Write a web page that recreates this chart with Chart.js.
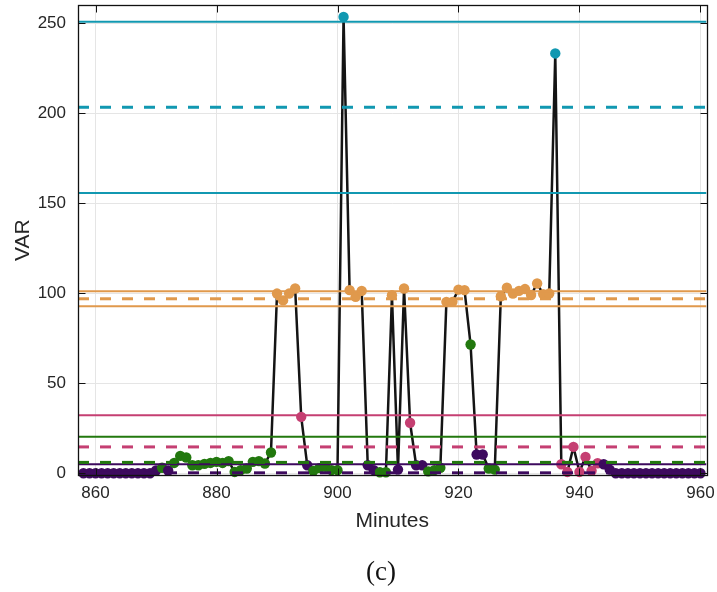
<!DOCTYPE html>
<html>
<head>
<meta charset="utf-8">
<script src="https://cdn.jsdelivr.net/npm/chart.js@4.4.1/dist/chart.umd.min.js"></script>
<style>
  html, body { margin: 0; padding: 0; background: #fff; }
  #wrap { position: relative; width: 717px; height: 592px; }
  #caption {
    position: absolute; left: 0; width: 762px; top: 556px;
    text-align: center; font: 27px "Liberation Serif", "Times New Roman", serif; color: #111;
  }
</style>
</head>
<body>
<div id="wrap">
  <canvas id="varChart" width="717" height="592"></canvas>
  <div id="caption">(c)</div>
</div>
<script>
/* ── 데이터: 분 단위 VAR 값 (858분부터 960분까지) ── */
const START_MINUTE = 858;

const VAR_VALUES = [
  0, 0, 0, 0, 0, 0, 0, 0, 0, 0, 0, 0,                    // 858-869
  1.5, 3, 1.5, 5.7, 9.6, 8.7, 4.4, 4.4, 5.2, 5.7,         // 870-879
  6.3, 5.7, 6.7, 0.7, 1.7, 2.6, 6.3, 6.7, 5.4, 11.5,      // 880-889
  99.8, 96, 99.8, 102.6, 31.3, 4.4, 1.3, 2.8, 3.5, 1.7,   // 890-899
  1.7, 253.5, 101.7, 98, 101.3, 4.4, 1.7, 0.5, 0.5, 98.9, // 900-909
  2, 102.6, 28, 4.4, 4.4, 1, 1.7, 3, 95.2, 95.2,          // 910-919
  102, 101.7, 71.5, 10.4, 10.4, 2.6, 2, 98.3, 103, 99.8,  // 920-929
  101.3, 102.3, 99, 105.4, 99.5, 99.8, 233.2, 5, 0.7, 14.6, // 930-939
  0.7, 9, 1.3, 5.5, 5, 2, 0, 0, 0, 0,                      // 940-949
  0, 0, 0, 0, 0, 0, 0, 0, 0, 0, 0                          // 950-960
];

// 점별 군집: p 보라, g 초록, k 분홍, o 주황, t 청록 (한 줄 = 10분)
const POINT_CLASS = [
  'pppppppppppp',   // 858-869
  'pgpggggggg',     // 870-879
  'gggggggggg',     // 880-889
  'ooookpgggg',     // 890-899
  'gtoooppggo',     // 900-909
  'pokppgggoo',     // 910-919
  'oogppggooo',     // 920-929
  'ooooootkkk',     // 930-939
  'kkkkpppppp',     // 940-949
  'ppppppppppp'     // 950-960
].join('').split('');

const CLASS_COLORS = {
  p: '#3d0a5e',
  g: '#22780e',
  k: '#c53f72',
  o: '#e0994c',
  t: '#1198b1'
};

// 군집별 기준선 (평균: 점선, 평균 ± 표준편차: 실선)
const BAND_CLASS  = ['t', 't', 't', 'o', 'o', 'o', 'k', 'k', 'g', 'g', 'p', 'p'];
const BAND_VALUES = [250.8, 203.3, 155.6, 101.1, 96.9, 92.8, 32.2, 14.6, 20.2, 6.0, 5.0, 0.2];
const BAND_DASHED = [false, true, false, false, true, false, false, true, false, true, false, true];

const X_TICKS = [860, 880, 900, 920, 940, 960];
const Y_TICKS = [0, 50, 100, 150, 200, 250];
const X_MIN = 857.1, X_MAX = 961;
const Y_MIN = -1, Y_MAX = 260;

/* ── 데이터셋 구성 ── */
const varPoints = VAR_VALUES.map((v, i) => ({ x: START_MINUTE + i, y: v }));
const pointColors = POINT_CLASS.map(c => CLASS_COLORS[c]);

const bandSets = BAND_VALUES.map((v, i) => ({
  data: [{ x: X_MIN, y: v }, { x: X_MAX, y: v }],
  borderColor: CLASS_COLORS[BAND_CLASS[i]],
  borderWidth: BAND_DASHED[i] ? 3 : 2,
  borderDash: BAND_DASHED[i] ? [11, 11] : [],
  pointRadius: 0,
  order: 0
}));

/* ── 안쪽 눈금 + 테두리 ── */
const framePlugin = {
  id: 'frame',
  afterDatasetsDraw(chart) {
    const { ctx, chartArea: a, scales: { x, y } } = chart;
    const L = Math.round(a.left) + 0.5, R = Math.round(a.right) + 0.5;
    const T = Math.round(a.top) + 0.5, B = Math.round(a.bottom) + 0.5;
    const tl = 7;
    ctx.save();
    ctx.strokeStyle = '#111';
    ctx.lineWidth = 1;
    ctx.beginPath();
    X_TICKS.forEach(t => {
      const px = Math.round(x.getPixelForValue(t)) + 0.5;
      ctx.moveTo(px, B); ctx.lineTo(px, B - tl);
      ctx.moveTo(px, T); ctx.lineTo(px, T + tl);
    });
    Y_TICKS.forEach(t => {
      const py = Math.round(y.getPixelForValue(t)) + 0.5;
      ctx.moveTo(L, py); ctx.lineTo(L + tl, py);
      ctx.moveTo(R, py); ctx.lineTo(R - tl, py);
    });
    ctx.stroke();
    ctx.lineWidth = 1.3;
    ctx.strokeRect(L, T, R - L, B - T);
    ctx.restore();
  }
};

const FONT = '"Liberation Sans", Arial, sans-serif';

new Chart(document.getElementById('varChart'), {
  type: 'line',
  data: {
    datasets: [
      {
        data: varPoints,
        borderColor: '#141414',
        borderWidth: 2.5,
        pointRadius: 5.2,
        pointHoverRadius: 5.2,
        pointBorderWidth: 0,
        pointBackgroundColor: pointColors,
        pointBorderColor: pointColors,
        tension: 0,
        clip: false,
        order: 1
      },
      ...bandSets
    ]
  },
  options: {
    responsive: false,
    animation: false,
    devicePixelRatio: 1,
    layout: { padding: { left: 0, right: 10.5, top: 5, bottom: 50 } },
    plugins: { legend: { display: false }, tooltip: { enabled: false } },
    scales: {
      x: {
        type: 'linear',
        min: X_MIN,
        max: X_MAX,
        afterBuildTicks: s => { s.ticks = X_TICKS.map(v => ({ value: v })); },
        afterFit: s => { s.height = 67; s.paddingLeft = 0; s.paddingRight = 0; },
        grid: { color: '#e5e5e5', lineWidth: 1, drawTicks: false },
        border: { display: false },
        ticks: { color: '#262626', font: { family: FONT, size: 17 }, padding: 8, maxRotation: 0 },
        title: { display: true, text: 'Minutes', color: '#262626', font: { family: FONT, size: 21 }, padding: { top: 0, bottom: 8 } }
      },
      y: {
        min: Y_MIN,
        max: Y_MAX,
        afterBuildTicks: s => { s.ticks = Y_TICKS.map(v => ({ value: v })); },
        afterFit: s => { s.width = 78; s.paddingTop = 0; s.paddingBottom = 0; },
        grid: { color: '#e5e5e5', lineWidth: 1, drawTicks: false },
        border: { display: false },
        ticks: { color: '#262626', font: { family: FONT, size: 17 }, padding: 12 },
        title: { display: true, text: 'VAR', color: '#262626', font: { family: FONT, size: 21 }, padding: { top: 11, bottom: 0 } }
      }
    }
  },
  plugins: [framePlugin]
});
</script>
</body>
</html>
